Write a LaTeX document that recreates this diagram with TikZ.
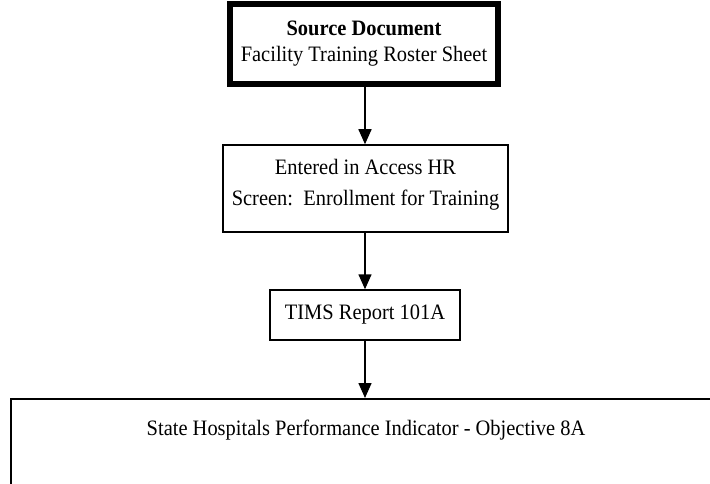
\documentclass[tikz,border=0pt]{standalone}
\usepackage{fontspec}
\setmainfont{Liberation Serif}[FakeStretch=0.93]
\usetikzlibrary{arrows.meta}
\begin{document}
\begin{tikzpicture}[x=1pt,y=-1pt,
  txt/.style={align=center, inner sep=0pt, font=\fontsize{22}{26}\selectfont},
  box/.style={txt, draw, line width=1.5pt},
  thickbox/.style={box, line width=5.5pt},
  arr/.style={line width=1.5pt, -{Triangle[length=15pt,width=13pt]}}]
\useasboundingbox (0,0) rectangle (710,484);
\clip (0,0) rectangle (710,484);
\node[thickbox, minimum width=268pt, minimum height=80pt] (src) at (364,44)
  {\textbf{Source Document}\\Facility Training Roster Sheet};
\node[box, minimum width=285pt, minimum height=87pt, font=\fontsize{22}{31}\selectfont] (hr) at (365.5,188.5)
  {Entered in Access HR\\Screen:\ \ Enrollment for Training\\[-19pt]};
\node[box, minimum width=190pt, minimum height=50pt] (tims) at (365,315)
  {TIMS Report 101A};
\node[box, anchor=north west, minimum width=730pt, minimum height=120pt] (sh) at (10,398) {};
\node[txt] (shtext) at (366,430)
  {State Hospitals Performance Indicator - Objective 8A};
\draw[arr] (src.south -| tims.north) -- (hr.north -| tims.north);
\draw[arr] (hr.south -| tims.north) -- (tims.north);
\draw[arr] (tims.south) -- (tims.south |- sh.north);
\end{tikzpicture}
\end{document}
